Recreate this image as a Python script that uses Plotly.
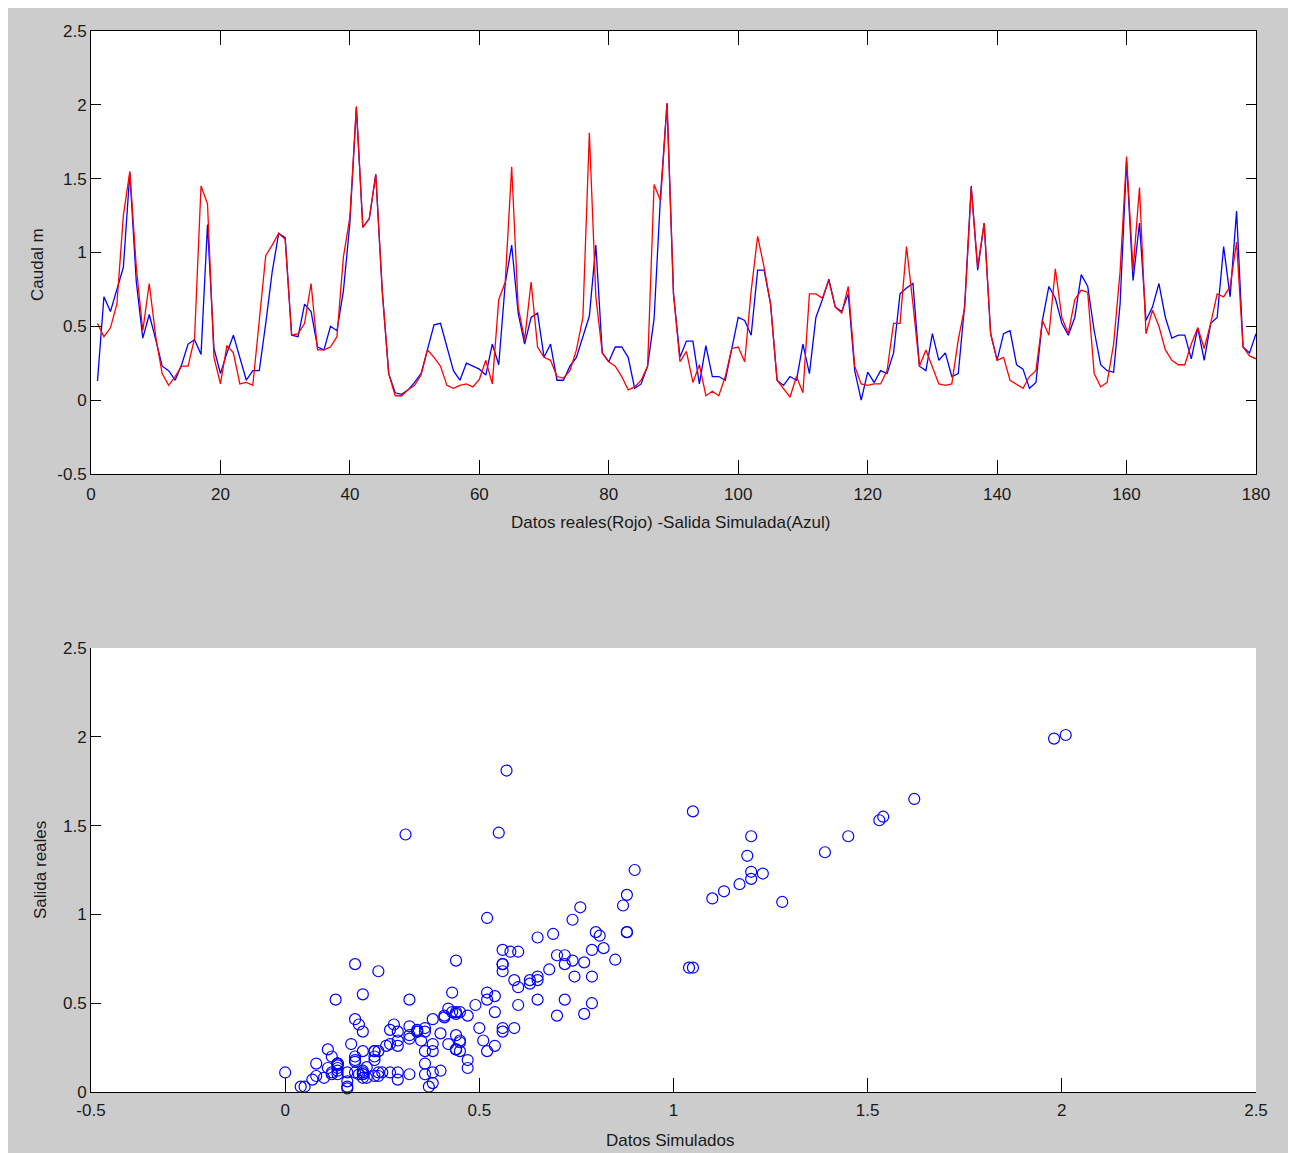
import plotly.graph_objects as go

# ---------------- data ----------------
t = list(range(1, 181))

real = [0.52, 0.43, 0.49, 0.65, 1.25, 1.55, 0.90, 0.47, 0.79, 0.43,
        0.18, 0.10, 0.16, 0.23, 0.23, 0.42, 1.45, 1.33, 0.29, 0.11,
        0.37, 0.32, 0.11, 0.12, 0.10, 0.55, 0.98, 1.05, 1.13, 1.09,
        0.44, 0.45, 0.52, 0.79, 0.34, 0.34, 0.36, 0.43, 0.97, 1.24,
        1.99, 1.17, 1.23, 1.53, 0.74, 0.18, 0.03, 0.03, 0.07, 0.10,
        0.17, 0.34, 0.29, 0.23, 0.10, 0.08, 0.10, 0.11, 0.09, 0.14,
        0.27, 0.11, 0.68, 0.80, 1.58, 0.63, 0.41, 0.80, 0.36, 0.29,
        0.27, 0.16, 0.15, 0.20, 0.34, 0.56, 1.81, 0.70, 0.32, 0.26,
        0.23, 0.16, 0.07, 0.09, 0.135, 0.23, 1.46, 1.35, 2.01, 0.72,
        0.26, 0.33, 0.12, 0.24, 0.03, 0.06, 0.03, 0.16, 0.35, 0.36,
        0.26, 0.74, 1.11, 0.90, 0.65, 0.135, 0.08, 0.02, 0.16, 0.05,
        0.72, 0.72, 0.69, 0.81, 0.63, 0.59, 0.77, 0.23, 0.11, 0.10,
        0.11, 0.11, 0.20, 0.52, 0.52, 1.04, 0.65, 0.23, 0.34, 0.23,
        0.11, 0.10, 0.11, 0.41, 0.63, 1.44, 0.90, 1.20, 0.45, 0.27,
        0.29, 0.135, 0.11, 0.08, 0.16, 0.20, 0.54, 0.44, 0.89, 0.56,
        0.45, 0.68, 0.745, 0.73, 0.18, 0.09, 0.12, 0.38, 0.87, 1.65,
        0.88, 1.44, 0.45, 0.61, 0.50, 0.34, 0.27, 0.24, 0.24, 0.38,
        0.49, 0.35, 0.52, 0.72, 0.70, 0.77, 1.07, 0.36, 0.30, 0.28]

sim = [0.13, 0.70, 0.60, 0.745, 0.90, 1.54, 0.80, 0.42, 0.58, 0.41,
       0.23, 0.20, 0.135, 0.24, 0.38, 0.41, 0.31, 1.19, 0.35, 0.18,
       0.32, 0.44, 0.29, 0.135, 0.20, 0.20, 0.52, 0.87, 1.13, 1.10,
       0.44, 0.43, 0.65, 0.60, 0.36, 0.34, 0.50, 0.47, 0.74, 1.20,
       1.98, 1.17, 1.23, 1.53, 0.74, 0.18, 0.05, 0.04, 0.07, 0.12,
       0.18, 0.34, 0.51, 0.52, 0.36, 0.20, 0.135, 0.25, 0.23, 0.21,
       0.17, 0.38, 0.24, 0.79, 1.05, 0.59, 0.38, 0.56, 0.59, 0.29,
       0.38, 0.135, 0.135, 0.23, 0.29, 0.43, 0.57, 1.05, 0.32, 0.26,
       0.36, 0.36, 0.29, 0.08, 0.11, 0.23, 0.55, 1.39, 2.01, 0.72,
       0.29, 0.40, 0.40, 0.11, 0.37, 0.16, 0.16, 0.135, 0.34, 0.56,
       0.54, 0.44, 0.88, 0.88, 0.65, 0.135, 0.10, 0.16, 0.135, 0.38,
       0.18, 0.56, 0.68, 0.82, 0.63, 0.60, 0.72, 0.20, 0.00, 0.19,
       0.12, 0.20, 0.18, 0.32, 0.72, 0.76, 0.79, 0.23, 0.20, 0.45,
       0.27, 0.32, 0.16, 0.18, 0.65, 1.45, 0.88, 1.20, 0.45, 0.27,
       0.45, 0.47, 0.24, 0.21, 0.08, 0.12, 0.54, 0.77, 0.69, 0.52,
       0.44, 0.56, 0.85, 0.77, 0.47, 0.24, 0.20, 0.19, 0.65, 1.62,
       0.81, 1.20, 0.54, 0.63, 0.79, 0.56, 0.42, 0.44, 0.44, 0.28,
       0.49, 0.27, 0.52, 0.56, 1.04, 0.70, 1.28, 0.36, 0.32, 0.45]

top_x_ticks = [0, 20, 40, 60, 80, 100, 120, 140, 160, 180]
top_y_ticks = [-0.5, 0, 0.5, 1, 1.5, 2, 2.5]
top_y_labels = ["-0.5", "0", "0.5", "1", "1.5", "2", "2.5"]
bot_x_ticks = [-0.5, 0, 0.5, 1, 1.5, 2, 2.5]
bot_x_labels = ["-0.5", "0", "0.5", "1", "1.5", "2", "2.5"]
bot_y_ticks = [0, 0.5, 1, 1.5, 2, 2.5]
bot_y_labels = ["0", "0.5", "1", "1.5", "2", "2.5"]

top_xlabel = "Datos reales(Rojo) -Salida Simulada(Azul)"
top_ylabel = "Caudal m"
bot_xlabel = "Datos Simulados"
bot_ylabel = "Salida reales"

# ---------------- figure ----------------
OFF = 8                      # page body margin
W, H = 1280, 1145
FONT = "Liberation Sans, Arial, sans-serif"
fsize = 17
TXT = "#1a1a1a"

fig = go.Figure()
fig.add_trace(go.Scatter(x=t, y=sim, mode="lines", line=dict(color="#0000ff", width=1.3),
                         xaxis="x", yaxis="y", showlegend=False))
fig.add_trace(go.Scatter(x=t, y=real, mode="lines", line=dict(color="#ff0000", width=1.3),
                         xaxis="x", yaxis="y", showlegend=False))
fig.add_trace(go.Scatter(x=sim, y=real, mode="markers",
                         marker=dict(symbol="circle-open", size=11, color="#0000ff",
                                     line=dict(width=1.2, color="#0000ff")),
                         cliponaxis=False, xaxis="x2", yaxis="y2", showlegend=False))


def px(v):
    return (v - OFF) / W


def py(v):
    return 1 - (v - OFF) / H


common = dict(showgrid=False, zeroline=False, showline=True, linecolor="#000000",
              linewidth=1, ticks="inside", tickcolor="#000000", tickwidth=1,
              automargin=False,
              tickfont=dict(family=FONT, size=fsize, color=TXT))

fig.update_layout(
    width=W, height=H,
    margin=dict(l=0, r=0, t=0, b=0, autoexpand=False),
    paper_bgcolor="#cccccc", plot_bgcolor="#ffffff",
    xaxis=dict(domain=[px(91), px(1256)], anchor="y", range=[0, 180],
               tickvals=top_x_ticks, mirror="ticks", ticklen=14,
               ticklabelstandoff=5, **common),
    yaxis=dict(domain=[py(474), py(31)], anchor="x", range=[-0.5, 2.5],
               tickvals=top_y_ticks, ticktext=top_y_labels, mirror="ticks", ticklen=10, **common),
    xaxis2=dict(domain=[px(91), px(1256)], anchor="y2", range=[-0.5, 2.5],
                tickvals=bot_x_ticks, ticktext=bot_x_labels, ticklen=14,
                ticklabelstandoff=3, **common),
    yaxis2=dict(domain=[py(1092), py(648)], anchor="x2", range=[0, 2.5],
                tickvals=bot_y_ticks, ticktext=bot_y_labels, ticklen=10, **common),
    annotations=[
        dict(text=top_xlabel, x=px(670), y=py(522), xref="paper", yref="paper",
             showarrow=False, xanchor="center", yanchor="middle",
             font=dict(family=FONT, size=fsize, color=TXT)),
        dict(text=top_ylabel, x=px(37), y=py(265), xref="paper", yref="paper",
             showarrow=False, xanchor="center", yanchor="middle", textangle=-90,
             font=dict(family=FONT, size=fsize, color=TXT)),
        dict(text=bot_xlabel, x=px(670), y=py(1140), xref="paper", yref="paper",
             showarrow=False, xanchor="center", yanchor="middle",
             font=dict(family=FONT, size=fsize, color=TXT)),
        dict(text=bot_ylabel, x=px(40), y=py(870), xref="paper", yref="paper",
             showarrow=False, xanchor="center", yanchor="middle", textangle=-90,
             font=dict(family=FONT, size=fsize, color=TXT)),
    ],
)

fig.write_html("out.html")
